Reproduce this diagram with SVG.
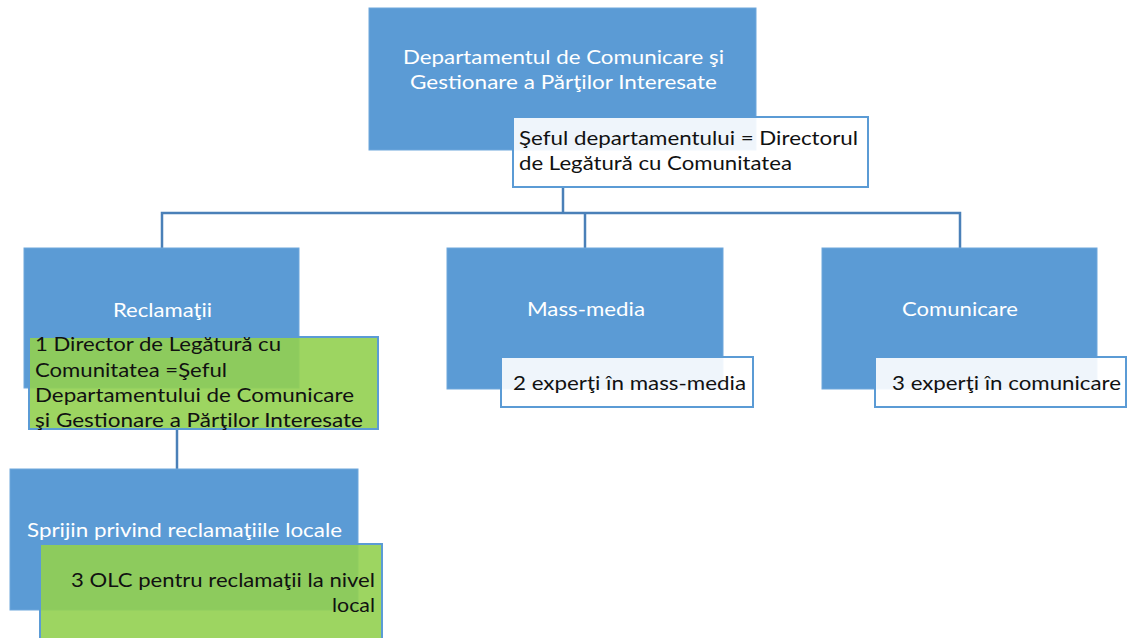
<svg xmlns="http://www.w3.org/2000/svg" width="1127" height="638" viewBox="0 0 1127 638">
<style>
.box{fill:#5b9bd5;stroke:#6fa7dc;stroke-width:1}
.lbl{fill:#ffffff;fill-opacity:0.9;stroke:#5b9bd5;stroke-width:2}
.grn{fill:#92d050;fill-opacity:0.9;stroke:#5b9bd5;stroke-width:2}
.wt{font-family:Lato,"Open Sans",sans-serif;font-size:19px;fill:#ffffff}
.bt{font-family:Lato,"Open Sans",sans-serif;font-size:19px;fill:#111111}
.con{fill:none;stroke:#4a80b8;stroke-width:2.5}
</style>
<rect width="1127" height="638" fill="#ffffff"/>
<g id="connectors">
<path class="con" d="M563,187 V213"/>
<path class="con" d="M162,248 V213 H960 V248"/>
<path class="con" d="M585,213 V248"/>
<path class="con" d="M177,429 V469"/>
</g>
<g id="dept">
<rect class="box" x="369" y="8" width="387" height="142"/>
<text class="wt" x="403" y="64" textLength="321" lengthAdjust="spacingAndGlyphs">Departamentul de Comunicare şi</text>
<text class="wt" x="410" y="89" textLength="307" lengthAdjust="spacingAndGlyphs">Gestionare a Părţilor Interesate</text>
</g>
<g id="dept-head">
<rect class="lbl" x="513" y="117" width="355" height="70"/>
<text class="bt" x="519" y="145" textLength="339" lengthAdjust="spacingAndGlyphs">Şeful departamentului = Directorul</text>
<text class="bt" x="519" y="170" textLength="273" lengthAdjust="spacingAndGlyphs">de Legătură cu Comunitatea</text>
</g>
<g id="reclamatii">
<rect class="box" x="24" y="248" width="275" height="140"/>
<text class="wt" x="113" y="317" textLength="99" lengthAdjust="spacingAndGlyphs">Reclamaţii</text>
</g>
<g id="reclamatii-staff">
<rect class="grn" x="29" y="337" width="349" height="92"/>
<text class="bt" x="35" y="351" textLength="246" lengthAdjust="spacingAndGlyphs">1 Director de Legătură cu</text>
<text class="bt" x="35" y="377" textLength="192" lengthAdjust="spacingAndGlyphs">Comunitatea =Şeful</text>
<text class="bt" x="35" y="402" textLength="319" lengthAdjust="spacingAndGlyphs">Departamentului de Comunicare</text>
<text class="bt" x="35" y="427" textLength="328" lengthAdjust="spacingAndGlyphs">şi Gestionare a Părţilor Interesate</text>
</g>
<g id="massmedia">
<rect class="box" x="447" y="248" width="276" height="141"/>
<text class="wt" x="527" y="316" textLength="118" lengthAdjust="spacingAndGlyphs">Mass-media</text>
</g>
<g id="massmedia-staff">
<rect class="lbl" x="501" y="357" width="252" height="50"/>
<text class="bt" x="513" y="390" textLength="233" lengthAdjust="spacingAndGlyphs">2 experţi în mass-media</text>
</g>
<g id="comunicare">
<rect class="box" x="822" y="248" width="275" height="141"/>
<text class="wt" x="902" y="316" textLength="116" lengthAdjust="spacingAndGlyphs">Comunicare</text>
</g>
<g id="comunicare-staff">
<rect class="lbl" x="875" y="357" width="251" height="50"/>
<text class="bt" x="892" y="390" textLength="229" lengthAdjust="spacingAndGlyphs">3 experţi în comunicare</text>
</g>
<g id="sprijin">
<rect class="box" x="10" y="469" width="348" height="141"/>
<text class="wt" x="27" y="537" textLength="315" lengthAdjust="spacingAndGlyphs">Sprijin privind reclamaţiile locale</text>
</g>
<g id="sprijin-staff">
<rect class="grn" x="40" y="544" width="342" height="100"/>
<text class="bt" x="71" y="587" textLength="304" lengthAdjust="spacingAndGlyphs">3 OLC pentru reclamaţii la nivel</text>
<text class="bt" x="332" y="612" textLength="43" lengthAdjust="spacingAndGlyphs">local</text>
</g>
</svg>
